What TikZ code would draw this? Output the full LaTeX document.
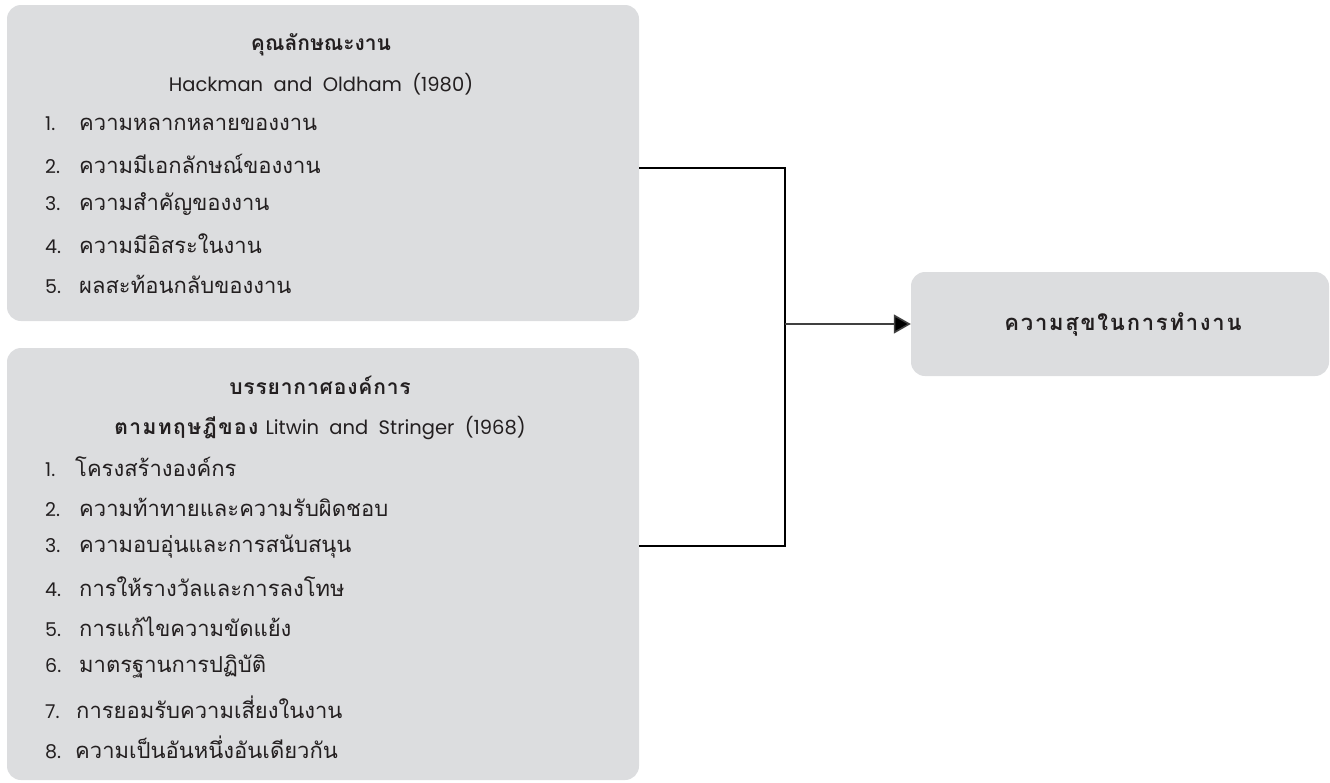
\documentclass[tikz,border=0pt]{standalone}
\usepackage{fontspec}
\newfontfamily\thai[Script=Thai]{Loma}
\newfontfamily\thaispa[Script=Thai,LetterSpace=4]{Loma}
\newfontfamily\thaispb[Script=Thai,LetterSpace=8]{Loma}
\newfontfamily\thaispc[Script=Thai,LetterSpace=7]{Loma}
\newfontfamily\lat{Poppins}
\usetikzlibrary{arrows.meta}
\definecolor{boxgray}{RGB}{220,221,223}
\definecolor{ink}{RGB}{35,31,32}
\tikzset{
  panel/.style={fill=boxgray, draw=none, rounded corners=14pt, inner sep=0pt},
  itemtext/.style={anchor=west, inner sep=0pt, text=ink, font=\thai\fontsize{22}{26}\selectfont},
  headtext/.style={anchor=center, inner sep=0pt, text=ink, font=\thai\bfseries\fontsize{21}{24}\selectfont},
  subtext/.style={anchor=center, inner sep=0pt, text=ink, font=\lat\fontsize{19.5}{24}\selectfont},
  link/.style={draw=black, line width=1.3pt},
  arrowlink/.style={draw=black!75, line width=1.6pt, -{Triangle[length=17pt,width=19pt,fill=black]}}
}
\newcommand{\itm}[3][34pt]{\makebox[#1][l]{\lat\fontsize{19}{24}\selectfont #2}#3}
\begin{document}
\begin{tikzpicture}[x=1pt,y=-1pt]
\useasboundingbox (0,0) rectangle (1330,782);
% boxes
\node[panel, minimum width=632pt, minimum height=316pt] (top) at (323,163) {};
\node[panel, minimum width=632pt, minimum height=432pt] (bot) at (323,564) {};
\node[panel, minimum width=418pt, minimum height=104pt] (res) at (1120,324) {};
% top box text
\node[headtext] (t0) at (321,45) {คุณลักษณะงาน};
\node[subtext] (t1) at (321,84) {Hackman\ \ and\ \ Oldham\ \ (1980)};
\node[itemtext] (t2) at (45,124) {\itm{1.}{ความหลากหลายของงาน}};
\node[itemtext] (t3) at (45,164) {\itm{2.}{ความมีเอกลักษณ์ของงาน}};
\node[itemtext] (t4) at (45,204) {\itm{3.}{ความสำคัญของงาน}};
\node[itemtext] (t5) at (45,244) {\itm{4.}{ความมีอิสระในงาน}};
\node[itemtext] (t6) at (45,284) {\itm{5.}{ผลสะท้อนกลับของงาน}};
% bottom box text
\node[headtext, font=\thaispa\bfseries\fontsize{21}{24}\selectfont] (b0) at (320,385) {บรรยากาศองค์การ};
\node[subtext] (b1) at (320,428) {{\thaispc\bfseries\fontsize{21}{24}\selectfont ตามทฤษฎีของ}\hspace{7pt}Litwin\ \ and\ \ Stringer\ \ (1968)};
\node[itemtext] (b2) at (45,467) {\itm[30pt]{1.}{โครงสร้างองค์กร}};
\node[itemtext] (b3) at (45,507) {\itm{2.}{ความท้าทายและความรับผิดชอบ}};
\node[itemtext] (b4) at (45,547) {\itm{3.}{ความอบอุ่นและการสนับสนุน}};
\node[itemtext] (b5) at (45,587) {\itm{4.}{การให้รางวัลและการลงโทษ}};
\node[itemtext] (b6) at (45,627) {\itm{5.}{การแก้ไขความขัดแย้ง}};
\node[itemtext] (b7) at (45,667) {\itm{6.}{มาตรฐานการปฏิบัติ}};
\node[itemtext] (b8) at (45,707) {\itm[31pt]{7.}{การยอมรับความเสี่ยงในงาน}};
\node[itemtext] (b9) at (45,747) {\itm[30pt]{8.}{ความเป็นอันหนึ่งอันเดียวกัน}};
% result text
\node[headtext, font=\thaispb\bfseries\fontsize{22}{26}\selectfont] (r0) at (1123,324) {ความสุขในการทำงาน};
% connectors
\coordinate (j1) at (785,168);
\coordinate (j2) at (785,546);
\coordinate (jm) at (785,324);
\draw[link] (top.east |- j1) -- (j1) -- (j2) -- (bot.east |- j2);
\draw[arrowlink] (jm) -- (res.west);
\end{tikzpicture}
\end{document}
